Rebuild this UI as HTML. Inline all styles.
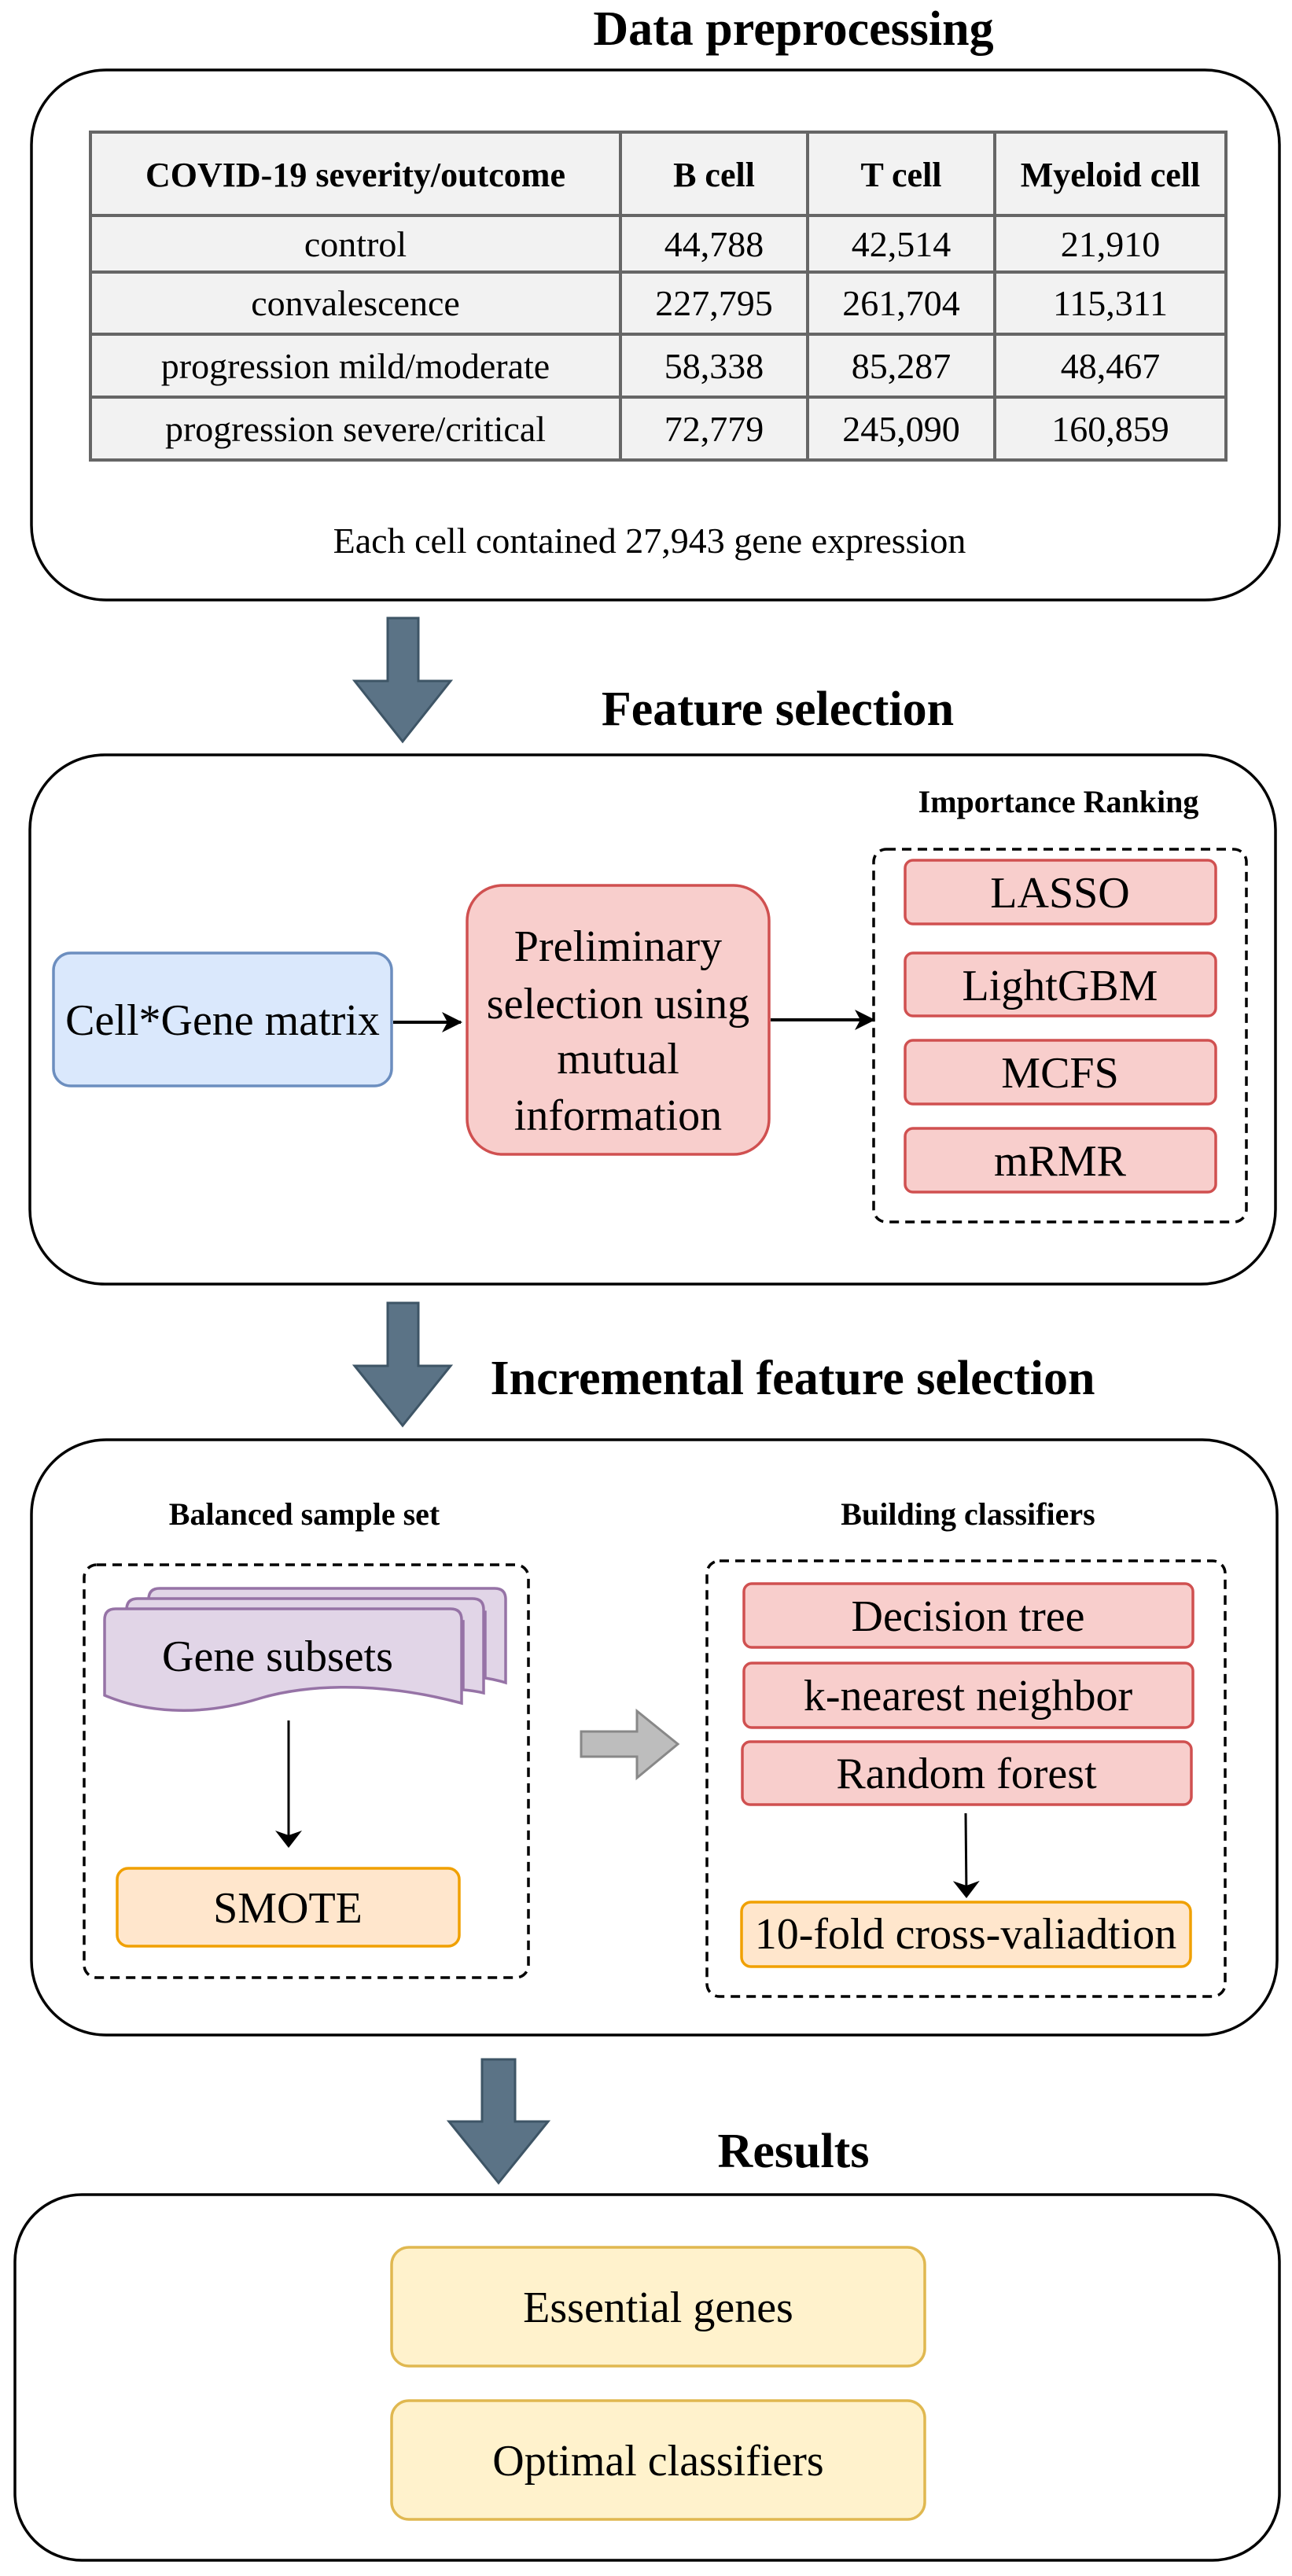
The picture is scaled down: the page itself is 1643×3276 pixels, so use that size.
<!DOCTYPE html>
<html><head><meta charset="utf-8"><style>
html,body{margin:0;padding:0;background:#fff}
svg{display:block}
text{font-family:"Liberation Serif",serif;fill:#000}
.t{font-weight:bold;font-size:62px}
.s{font-weight:bold;font-size:40px}
.b{font-size:56px}
.c{font-size:46px}
</style></head><body>
<svg width="1643" height="3276" viewBox="0 0 1643 3276" xmlns="http://www.w3.org/2000/svg">
<defs>
<marker id="ah" markerWidth="26" markerHeight="26" refX="24" refY="13" orient="auto" markerUnits="userSpaceOnUse" viewBox="0 0 26 26">
<path d="M0,0 L26,13 L0,26 L7,13 Z" fill="#000"/></marker>
<marker id="ah2" markerWidth="22" markerHeight="34" refX="20" refY="17" orient="auto" markerUnits="userSpaceOnUse" viewBox="0 0 22 34">
<path d="M0,0 L22,17 L0,34 L6,17 Z" fill="#000"/></marker>
</defs>

<!-- Section 1 -->
<text class="t" x="1009" y="57" text-anchor="middle">Data preprocessing</text>
<rect x="40" y="89" width="1587" height="674" rx="95" ry="95" fill="#fff" stroke="#000" stroke-width="3.5"/>
<rect x="115" y="168" width="1444" height="417" fill="#f2f2f2" stroke="#666" stroke-width="4"/>
<g stroke="#666" stroke-width="4">
<line x1="115" y1="274" x2="1559" y2="274"/><line x1="115" y1="346" x2="1559" y2="346"/>
<line x1="115" y1="425" x2="1559" y2="425"/><line x1="115" y1="505" x2="1559" y2="505"/>
<line x1="789" y1="168" x2="789" y2="585"/><line x1="1027" y1="168" x2="1027" y2="585"/>
<line x1="1265" y1="168" x2="1265" y2="585"/>
</g>
<g class="c" text-anchor="middle">
<text x="452" y="237" font-weight="bold" font-size="44">COVID-19 severity/outcome</text>
<text x="908" y="237" font-weight="bold" font-size="44">B cell</text>
<text x="1146" y="237" font-weight="bold" font-size="44">T cell</text>
<text x="1412" y="237" font-weight="bold" font-size="44">Myeloid cell</text>
<text x="452" y="326">control</text><text x="908" y="326">44,788</text><text x="1146" y="326">42,514</text><text x="1412" y="326">21,910</text>
<text x="452" y="401">convalescence</text><text x="908" y="401">227,795</text><text x="1146" y="401">261,704</text><text x="1412" y="401">115,311</text>
<text x="452" y="481">progression mild/moderate</text><text x="908" y="481">58,338</text><text x="1146" y="481">85,287</text><text x="1412" y="481">48,467</text>
<text x="452" y="561">progression severe/critical</text><text x="908" y="561">72,779</text><text x="1146" y="561">245,090</text><text x="1412" y="561">160,859</text>
<text x="826" y="703">Each cell contained 27,943 gene expression</text>
</g>

<path d="M493,786 H532 V866 H573 L512,943 L451,866 H493 Z" fill="#5b7386" stroke="#3e5566" stroke-width="3"/>

<!-- Section 2 -->
<text class="t" x="989" y="922" text-anchor="middle">Feature selection</text>
<rect x="38" y="960" width="1584" height="673" rx="95" ry="95" fill="#fff" stroke="#000" stroke-width="3.5"/>
<text class="s" x="1346" y="1033" text-anchor="middle">Importance Ranking</text>
<rect x="1111" y="1080" width="474" height="474" rx="16" fill="none" stroke="#000" stroke-width="3.5" stroke-dasharray="12,8"/>
<g fill="#f8cecc" stroke="#d05050" stroke-width="3.5">
<rect x="1151" y="1094" width="395" height="81" rx="10"/>
<rect x="1151" y="1212" width="395" height="80" rx="10"/>
<rect x="1151" y="1323" width="395" height="81" rx="10"/>
<rect x="1151" y="1435" width="395" height="81" rx="10"/>
</g>
<g class="b" text-anchor="middle">
<text x="1348" y="1154">LASSO</text><text x="1348" y="1272">LightGBM</text>
<text x="1348" y="1383">MCFS</text><text x="1348" y="1495">mRMR</text>
</g>
<rect x="68" y="1212" width="430" height="169" rx="22" fill="#dae8fc" stroke="#6c8ebf" stroke-width="3.5"/>
<text class="b" x="283" y="1316" text-anchor="middle">Cell*Gene matrix</text>
<line x1="500" y1="1300" x2="586" y2="1300" stroke="#000" stroke-width="4" marker-end="url(#ah)"/>
<rect x="594" y="1126" width="384" height="342" rx="45" fill="#f8cecc" stroke="#d05050" stroke-width="3.5"/>
<g class="b" text-anchor="middle">
<text x="786" y="1222">Preliminary</text><text x="786" y="1295">selection using</text>
<text x="786" y="1365">mutual</text><text x="786" y="1437">information</text>
</g>
<line x1="980" y1="1297" x2="1111" y2="1297" stroke="#000" stroke-width="4" marker-end="url(#ah)"/>

<path d="M493,1657 H532 V1737 H573 L512,1813 L451,1737 H493 Z" fill="#5b7386" stroke="#3e5566" stroke-width="3"/>

<!-- Section 3 -->
<text class="t" x="1008" y="1773" text-anchor="middle">Incremental feature selection</text>
<rect x="40" y="1831" width="1584" height="757" rx="95" ry="95" fill="#fff" stroke="#000" stroke-width="3.5"/>
<text class="s" x="387" y="1939" text-anchor="middle">Balanced sample set</text>
<text class="s" x="1231" y="1939" text-anchor="middle">Building classifiers</text>
<rect x="107" y="1990" width="565" height="525" rx="16" fill="none" stroke="#000" stroke-width="3.5" stroke-dasharray="12,8"/>
<rect x="899" y="1985" width="659" height="554" rx="16" fill="none" stroke="#000" stroke-width="3.5" stroke-dasharray="12,8"/>
<g fill="#e1d5e7" stroke="#9673a6" stroke-width="3.5">
<path d="M189,2034 Q189,2020 203,2020 H629 Q643,2020 643,2034 V2140 Q630,2136 617,2134 V2050 Z"/>
<path d="M161,2047 Q161,2033 175,2033 H601 Q615,2033 615,2047 V2153 Q602,2150 589,2149 V2062 Z"/>
<path d="M133,2060 Q133,2046 147,2046 H573 Q587,2046 587,2060 V2166 C470,2135 380,2145 330,2160 C250,2185 180,2176 133,2156 Z"/>
</g>
<text class="b" x="353" y="2125" text-anchor="middle">Gene subsets</text>
<line x1="367" y1="2188" x2="367" y2="2348" stroke="#000" stroke-width="3" marker-end="url(#ah2)"/>
<rect x="149" y="2376" width="435" height="99" rx="14" fill="#ffe6cc" stroke="#f0a000" stroke-width="3.5"/>
<text class="b" x="366" y="2445" text-anchor="middle">SMOTE</text>
<path d="M739,2202 H810 V2176 L862,2218 L810,2261 V2234 H739 Z" fill="#bdbdbd" stroke="#888" stroke-width="3"/>
<g fill="#f8cecc" stroke="#d05050" stroke-width="3.5">
<rect x="946" y="2014" width="571" height="81" rx="10"/>
<rect x="946" y="2115" width="571" height="82" rx="10"/>
<rect x="944" y="2215" width="571" height="80" rx="10"/>
</g>
<g class="b" text-anchor="middle">
<text x="1231" y="2074">Decision tree</text>
<text x="1231" y="2175">k-nearest neighbor</text>
<text x="1229" y="2274">Random forest</text>
</g>
<line x1="1228" y1="2306" x2="1229" y2="2412" stroke="#000" stroke-width="3" marker-end="url(#ah2)"/>
<rect x="943" y="2419" width="571" height="82" rx="12" fill="#ffe6cc" stroke="#f0a000" stroke-width="3.5"/>
<text class="b" x="1228" y="2478" text-anchor="middle" font-size="54">10-fold cross-valiadtion</text>

<path d="M613,2619 H655 V2698 H697 L634,2776 L571,2698 H613 Z" fill="#5b7386" stroke="#3e5566" stroke-width="3"/>

<!-- Section 4 -->
<text class="t" x="1009" y="2756" text-anchor="middle">Results</text>
<rect x="19" y="2791" width="1608" height="465" rx="85" ry="85" fill="#fff" stroke="#000" stroke-width="3.5"/>
<rect x="498" y="2858" width="678" height="151" rx="22" fill="#fff2cc" stroke="#e0b850" stroke-width="3.5"/>
<rect x="498" y="3053" width="678" height="151" rx="22" fill="#fff2cc" stroke="#e0b850" stroke-width="3.5"/>
<g class="b" text-anchor="middle">
<text x="837" y="2953">Essential genes</text>
<text x="837" y="3148">Optimal classifiers</text>
</g>
</svg>
</body></html>
